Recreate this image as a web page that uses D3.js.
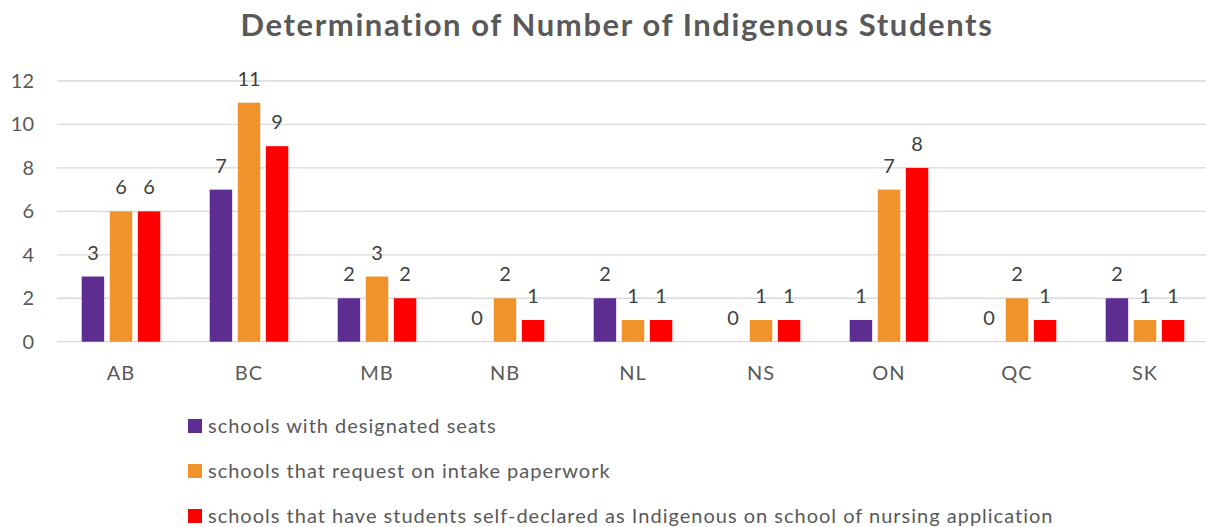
<!DOCTYPE html>
<html>
<head>
<meta charset="utf-8">
<script src="https://cdn.jsdelivr.net/npm/d3@7"></script>
<style>
  body { margin: 0; background: #fff; }
  svg { display: block; font-family: Lato, "Open Sans", sans-serif; }
</style>
</head>
<body>
<svg id="chart" width="1206" height="527"></svg>
<script>
var provinces = ["AB", "BC", "MB", "NB", "NL", "NS", "ON", "QC", "SK"]
var seriesNames = [
    "schools with designated seats",
    "schools that request on intake paperwork",
    "schools that have students self-declared as Indigenous on school of nursing application"
]
var designatedSeats = [3, 7, 2, 0, 2, 0, 1, 0, 2]
var intakePaperwork = [6, 11, 3, 2, 1, 1, 7, 2, 1]
var selfDeclared = [6, 9, 2, 1, 1, 1, 8, 1, 1]
var seriesColors = ["#5e2d91", "#f0932a", "#ff0000"]
var yTicks = [0, 2, 4, 6, 8, 10, 12]

var allSeries = [designatedSeats, intakePaperwork, selfDeclared]

var svg = d3.select("#chart")

var x0 = d3.scaleBand()
    .domain(provinces)
    .range([57, 1209])
    .paddingInner(0.386)
    .paddingOuter(0.193)

var x1 = d3.scaleBand()
    .domain(d3.range(allSeries.length))
    .range([0, x0.bandwidth()])
    .paddingInner(0.2)

var y = d3.scaleLinear()
    .domain([0, 12])
    .range([341.7, 81])

// title
svg.append("text")
    .attr("x", 617)
    .attr("y", 36)
    .attr("text-anchor", "middle")
    .attr("font-size", 31)
    .attr("font-weight", "bold")
    .attr("letter-spacing", "1.6px")
    .attr("fill", "#595959")
    .text("Determination of Number of Indigenous Students")

// gridlines
svg.append("g")
    .selectAll("line")
    .data(yTicks)
    .join("line")
    .attr("x1", 57)
    .attr("x2", 1206)
    .attr("y1", d => y(d))
    .attr("y2", d => y(d))
    .attr("stroke", "#d9d9d9")
    .attr("stroke-width", 1.3)

// y axis labels
var yAxis = svg.append("g")
    .attr("transform", "translate(40,0)")
    .call(d3.axisLeft(y).tickValues(yTicks).tickSize(0).tickPadding(6))
yAxis.select(".domain").remove()
yAxis.selectAll("text")
    .attr("font-size", 20)
    .attr("font-family", "Lato, sans-serif")
    .attr("fill", "#595959")

// x axis labels
var xAxis = svg.append("g")
    .attr("transform", "translate(0," + 341.7 + ")")
    .call(d3.axisBottom(x0).tickSize(0).tickPadding(24))
xAxis.select(".domain").remove()
xAxis.selectAll("text")
    .attr("font-size", 20)
    .attr("font-family", "Lato, sans-serif")
    .attr("letter-spacing", "1px")
    .attr("fill", "#595959")

// bars
var groups = svg.append("g")
    .selectAll("g")
    .data(provinces)
    .join("g")
    .attr("transform", d => "translate(" + x0(d) + ",0)")

groups.selectAll("rect")
    .data((p, i) => allSeries.map((s, k) => ({ k: k, v: s[i] })))
    .join("rect")
    .attr("x", d => x1(d.k))
    .attr("width", x1.bandwidth())
    .attr("y", d => y(d.v))
    .attr("height", d => y(0) - y(d.v))
    .attr("fill", d => seriesColors[d.k])

// data labels
groups.selectAll("text")
    .data((p, i) => allSeries.map((s, k) => ({ k: k, v: s[i] })))
    .join("text")
    .attr("x", d => x1(d.k) + x1.bandwidth() / 2)
    .attr("y", d => y(d.v) - 17)
    .attr("text-anchor", "middle")
    .attr("font-size", 20)
    .attr("fill", "#404040")
    .text(d => d.v)

// legend
var legend = svg.append("g")
    .selectAll("g")
    .data(seriesNames)
    .join("g")
    .attr("transform", (d, i) => "translate(188," + (419 + i * 45) + ")")

legend.append("rect")
    .attr("width", 14)
    .attr("height", 14)
    .attr("fill", (d, i) => seriesColors[i])

legend.append("text")
    .attr("x", 20)
    .attr("y", 14)
    .attr("font-size", 20)
    .attr("letter-spacing", "1px")
    .attr("fill", "#595959")
    .text(d => d)
</script>
</body>
</html>
